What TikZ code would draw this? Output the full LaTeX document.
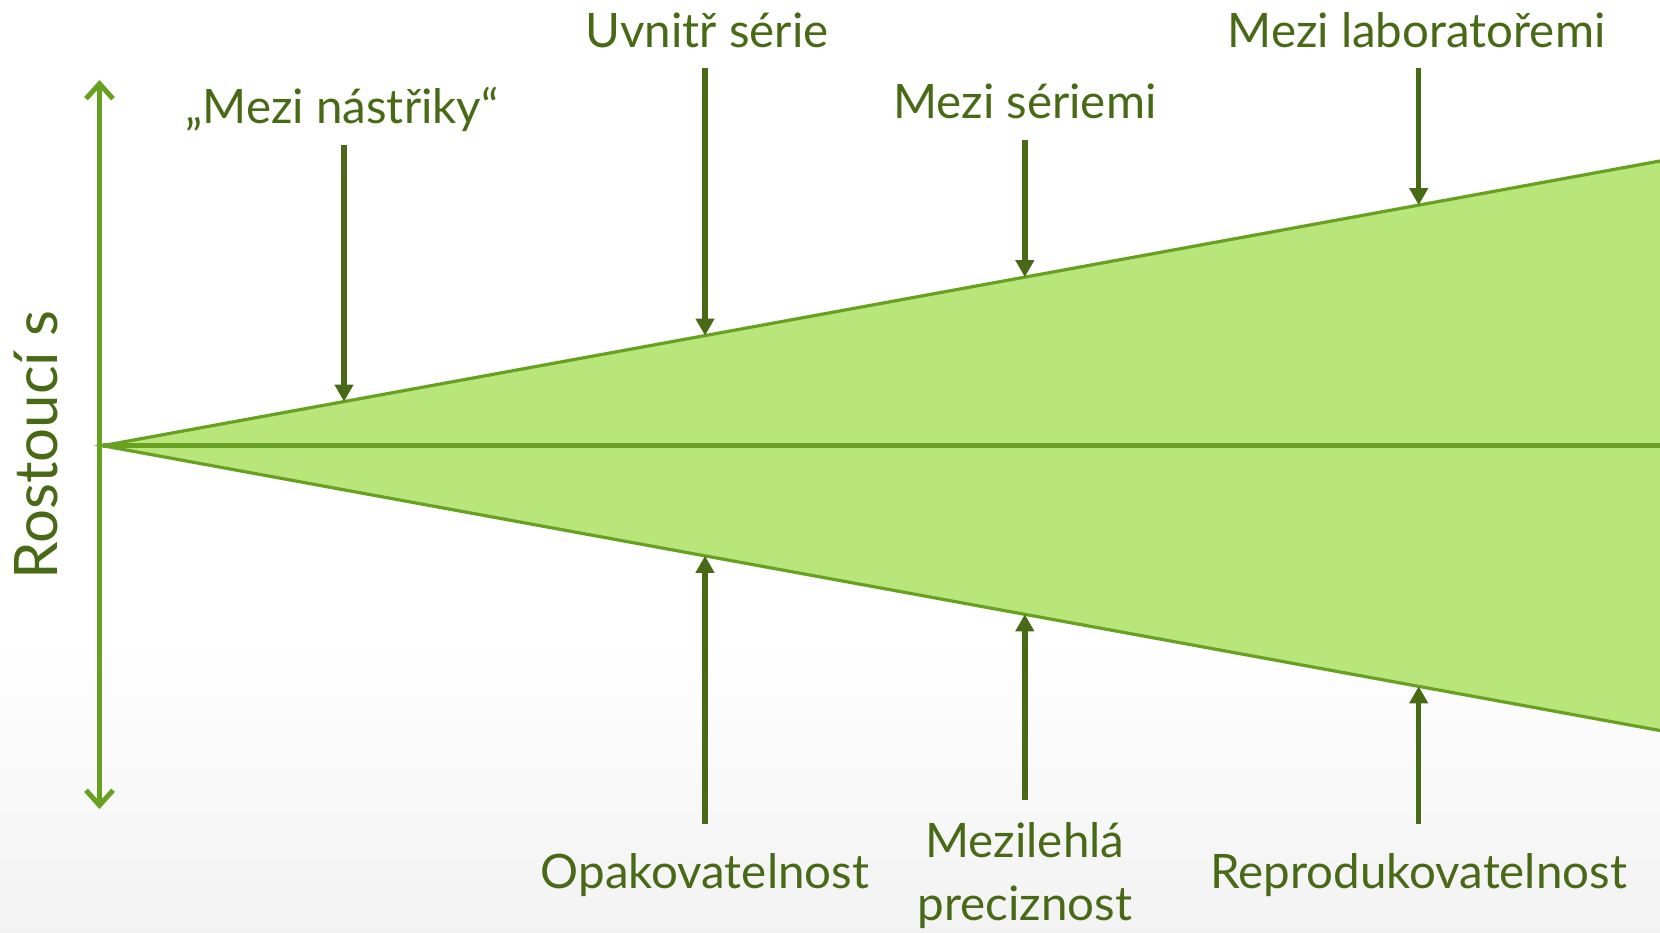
\documentclass[tikz,border=0pt]{standalone}
\usepackage{fontspec}
\setmainfont{Lato}
\definecolor{leafdark}{RGB}{72, 106, 22}
\definecolor{leafmid}{RGB}{104, 160, 34}
\definecolor{leaflight}{RGB}{184, 230, 122}
\usetikzlibrary{arrows.meta, calc}

\begin{document}
\begin{tikzpicture}[x=1pt, y=-1pt,
  lbl/.style={text=leafdark, font=\fontsize{47.5}{63}\selectfont, inner sep=0pt, text depth=0pt},
  pointer/.style={leafdark, line width=5.5pt, -{Triangle[length=17pt, width=18pt]}}]

  \useasboundingbox (0,0) rectangle (1660,932);
  % background
  \fill[white] (0,0) rectangle (1660,932);
  \shade[top color=white, bottom color=black!5] (0,640) rectangle (1660,932);

  % widening band
  \coordinate (apex) at (102.7,445.7);
  \coordinate (upend) at (1660,161);
  \coordinate (lowend) at (1660,730.5);
  \coordinate (midend) at (1660,445.7);
  \fill[leaflight] (apex) -- (upend) -- (lowend) -- cycle;
  \draw[leafmid, line width=3.2pt] (upend) -- (apex) -- (lowend);
  \draw[leafmid, line width=5pt] (apex) -- (midend);

  % axis
  \coordinate (axtop) at (99.5,80);
  \coordinate (axbot) at (99.5,809);
  \draw[leafmid, line width=5pt, {Straight Barb[length=15pt, width=27pt]}-{Straight Barb[length=15pt, width=27pt]}] (axtop) -- (axbot);
  \node[lbl, font=\fontsize{60}{60}\selectfont, rotate=90] (axlabel) at (36,445) {Rostoucí s};

  % points on the band edges
  \coordinate (ns-tip) at ($(apex)!{(344-102.7)/1557.3}!(upend)$);
  \coordinate (uvn-tip) at ($(apex)!{(705-102.7)/1557.3}!(upend)$);
  \coordinate (mss-tip) at ($(apex)!{(1024.8-102.7)/1557.3}!(upend)$);
  \coordinate (mlab-tip) at ($(apex)!{(1418.7-102.7)/1557.3}!(upend)$);
  \coordinate (op-tip) at ($(apex)!{(705-102.7)/1557.3}!(lowend)$);
  \coordinate (mzl-tip) at ($(apex)!{(1024.8-102.7)/1557.3}!(lowend)$);
  \coordinate (rep-tip) at ($(apex)!{(1418.7-102.7)/1557.3}!(lowend)$);

  % upper labels
  \node[lbl, anchor=south] (ns) at (342,124) {„Mezi nástřiky“};
  \node[lbl, anchor=south] (uvn) at (707,47.6) {Uvnitř série};
  \node[lbl, anchor=south] (mss) at (1024.8,118.6) {Mezi sériemi};
  \node[lbl, anchor=south] (mlab) at (1416.5,47.6) {Mezi laboratořemi};

  % lower labels
  \node[lbl, anchor=north] (op) at (705,853) {Opakovatelnost};
  \node[lbl, anchor=north, align=center] (mzl) at (1024.8,822) {Mezilehlá\\preciznost};
  \node[lbl, anchor=north] (rep) at (1418.7,853) {Reprodukovatelnost};

  \draw[pointer, shorten <=21pt] (ns-tip |- ns.south) -- (ns-tip);
  \draw[pointer, shorten <=20pt] (uvn-tip |- uvn.south) -- (uvn-tip);
  \draw[pointer, shorten <=21pt] (mss-tip |- mss.south) -- (mss-tip);
  \draw[pointer, shorten <=20pt] (mlab-tip |- mlab.south) -- (mlab-tip);
  \draw[pointer, shorten <=29pt] (op-tip |- op.north) -- (op-tip);
  \draw[pointer, shorten <=22pt] (mzl-tip |- mzl.north) -- (mzl-tip);
  \draw[pointer, shorten <=29pt] (rep-tip |- rep.north) -- (rep-tip);
\end{tikzpicture}
\end{document}
